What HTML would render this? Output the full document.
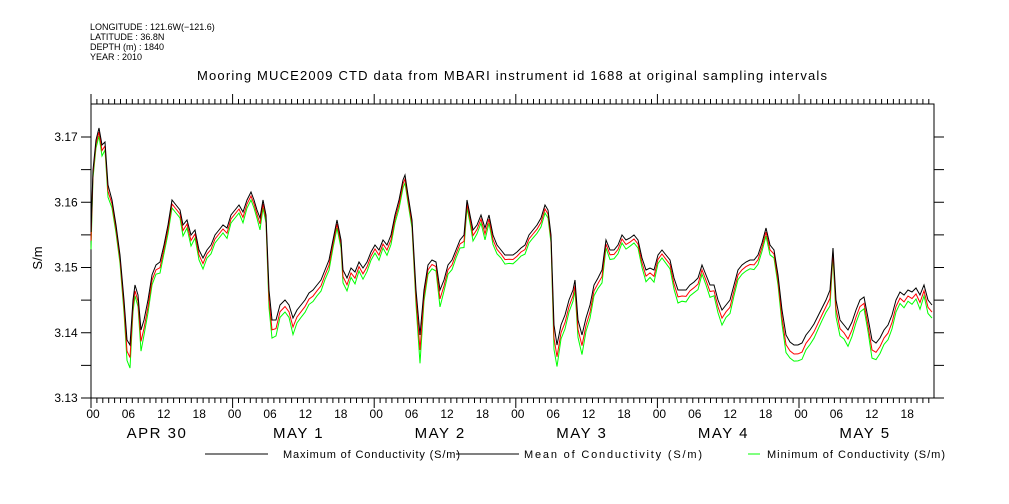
<!DOCTYPE html>
<html><head><meta charset="utf-8"><style>
body{margin:0;background:#fff}
svg{display:block;font-family:"Liberation Sans",sans-serif}
</style></head><body>
<svg id="s" width="1009" height="504" viewBox="0 0 1009 504" xmlns="http://www.w3.org/2000/svg">
<g font-size="9" fill="#000">
<text x="90" y="30">LONGITUDE : 121.6W(−121.6)</text>
<text x="90" y="40">LATITUDE : 36.8N</text>
<text x="90" y="50">DEPTH (m) : 1840</text>
<text x="90" y="60">YEAR : 2010</text>
</g>
<text x="197" y="80" font-size="13" textLength="630" lengthAdjust="spacing">Mooring MUCE2009 CTD data from MBARI instrument id 1688 at original sampling intervals</text>
<text x="42" y="258" font-size="13" text-anchor="middle" transform="rotate(-90 42 258)">S/m</text>
<rect x="91" y="104" width="843" height="294" fill="none" stroke="#000" stroke-width="1"/>
<g id="ticks" stroke="#000" stroke-width="1"></g>
<g id="lab" font-size="12" text-anchor="middle"></g>
<g id="data" fill="none" stroke-width="1"></g>
<g font-size="11">
<line x1="205" y1="454" x2="268" y2="454" stroke="#000"/>
<text x="283" y="458" textLength="177" lengthAdjust="spacing">Maximum of Conductivity (S/m)</text>
<line x1="456" y1="454" x2="519" y2="454" stroke="#000"/>
<text x="524" y="458" textLength="178" lengthAdjust="spacing">Mean of Conductivity (S/m)</text>
<line x1="748" y1="454" x2="760" y2="454" stroke="#0f0"/>
<text x="767" y="458" textLength="178" lengthAdjust="spacing">Minimum of Conductivity (S/m)</text>
</g>
</svg>
<script>
const NS="http://www.w3.org/2000/svg";
function el(p,t,a,txt){const e=document.createElementNS(NS,t);for(const k in a)e.setAttribute(k,a[k]);if(txt!=null)e.textContent=txt;document.getElementById(p).appendChild(e);return e;}
const x0=91,dx=141.6/24;
for(let h=0;;h++){const x=x0+h*dx;if(x>934)break;const big=h%24==0;const six=h%6==0;
 const L=big?10:5;
 el("ticks","line",{x1:x,y1:398,x2:x,y2:398+L});
 el("ticks","line",{x1:x,y1:104,x2:x,y2:104-L});
 if(six){el("lab","text",{x:x+2,y:418},String(h%24).padStart(2,"0"));}
}
["APR 30","MAY  1","MAY  2","MAY  3","MAY  4","MAY  5"].forEach((t,i)=>{el("lab","text",{x:x0+i*141.6+66,y:438,"font-size":"15","letter-spacing":"1.5","xml:space":"preserve"},t);});
for(let i=0;i<=8;i++){const y=398-i*32.625;const big=i%2==0;
 el("ticks","line",{x1:91-10,y1:y,x2:91,y2:y});
 el("ticks","line",{x1:934,y1:y,x2:944,y2:y});
 if(big)el("lab","text",{x:66,y:y+4,"font-size":"12"},(3.13+i*0.005).toFixed(2));}
const b=[[91,232],[93,170],[96,140],[99,128],[102,145],[105,142],[108,185],[112,200],[116,225],[120,255],[124,300],[127,340],[130,345],[133,300],[135,285],[138,295],[141,330],[144,320],[148,300],[152,275],[156,265],[160,262],[164,245],[168,225],[172,200],[176,205],[180,210],[183,225],[187,220],[191,235],[195,230],[199,250],[203,258],[207,250],[211,245],[215,235],[219,230],[223,225],[227,228],[231,215],[235,210],[239,205],[243,212],[247,200],[251,192],[254,200],[257,210],[260,218],[263,200],[266,215],[269,290],[272,320],[276,320],[280,305],[285,300],[289,305],[293,318],[297,310],[301,305],[305,300],[309,293],[313,290],[317,285],[321,280],[325,270],[329,260],[333,240],[337,220],[341,240],[343,270],[347,278],[351,268],[355,272],[359,262],[363,268],[367,262],[371,252],[375,245],[379,250],[383,240],[387,245],[391,235],[395,215],[399,200],[403,180],[405,175],[408,195],[412,220],[416,290],[420,335],[424,290],[428,265],[432,260],[436,262],[440,290],[444,280],[448,265],[452,260],[456,250],[460,240],[464,235],[467,200],[470,215],[473,230],[477,225],[481,215],[485,228],[489,215],[493,235],[497,245],[501,250],[505,255],[509,255],[513,255],[517,252],[521,248],[525,245],[529,235],[533,230],[537,225],[541,218],[545,205],[548,210],[551,235],[554,325],[557,345],[561,325],[565,315],[569,300],[573,290],[575,280],[578,320],[582,335],[586,318],[590,305],[594,285],[598,278],[602,270],[606,240],[610,250],[614,250],[618,245],[622,235],[626,240],[630,238],[634,235],[638,240],[642,258],[646,270],[650,268],[654,270],[658,255],[662,250],[666,255],[670,260],[674,278],[678,290],[682,290],[686,290],[690,285],[694,282],[698,278],[702,265],[706,275],[710,285],[714,285],[718,300],[722,310],[726,305],[730,300],[734,285],[738,270],[742,265],[746,262],[750,260],[754,260],[758,255],[762,243],[766,228],[770,245],[774,250],[778,275],[782,310],[786,335],[790,342],[794,345],[798,345],[802,343],[806,335],[810,330],[814,324],[818,316],[822,308],[826,300],[830,290],[833,248],[836,300],[840,320],[844,325],[848,330],[852,322],[856,310],[860,300],[864,297],[868,318],[872,340],[876,343],[880,338],[884,330],[888,325],[892,315],[896,300],[900,292],[904,295],[908,290],[912,292],[916,288],[920,295],[924,285],[928,300],[932,305]];
function pts(f){return b.map(([x,y],i)=>{const p=b[Math.max(0,i-1)][1],n=b[Math.min(b.length-1,i+1)][1];const pk=Math.max(0,y-(p+n)/2);return x+","+Math.min(397,f(y,pk)).toFixed(1)}).join(" ");}
el("data","polyline",{points:pts((y,pk)=>y+8+0.08*Math.max(0,y-250)+pk*0.3),stroke:"#0f0"});
el("data","polyline",{points:pts((y,pk)=>y+4+0.05*Math.max(0,y-250)+pk*0.15),stroke:"#f00"});
el("data","polyline",{points:pts((y)=>y),stroke:"#000"});
</script>
</body></html>
